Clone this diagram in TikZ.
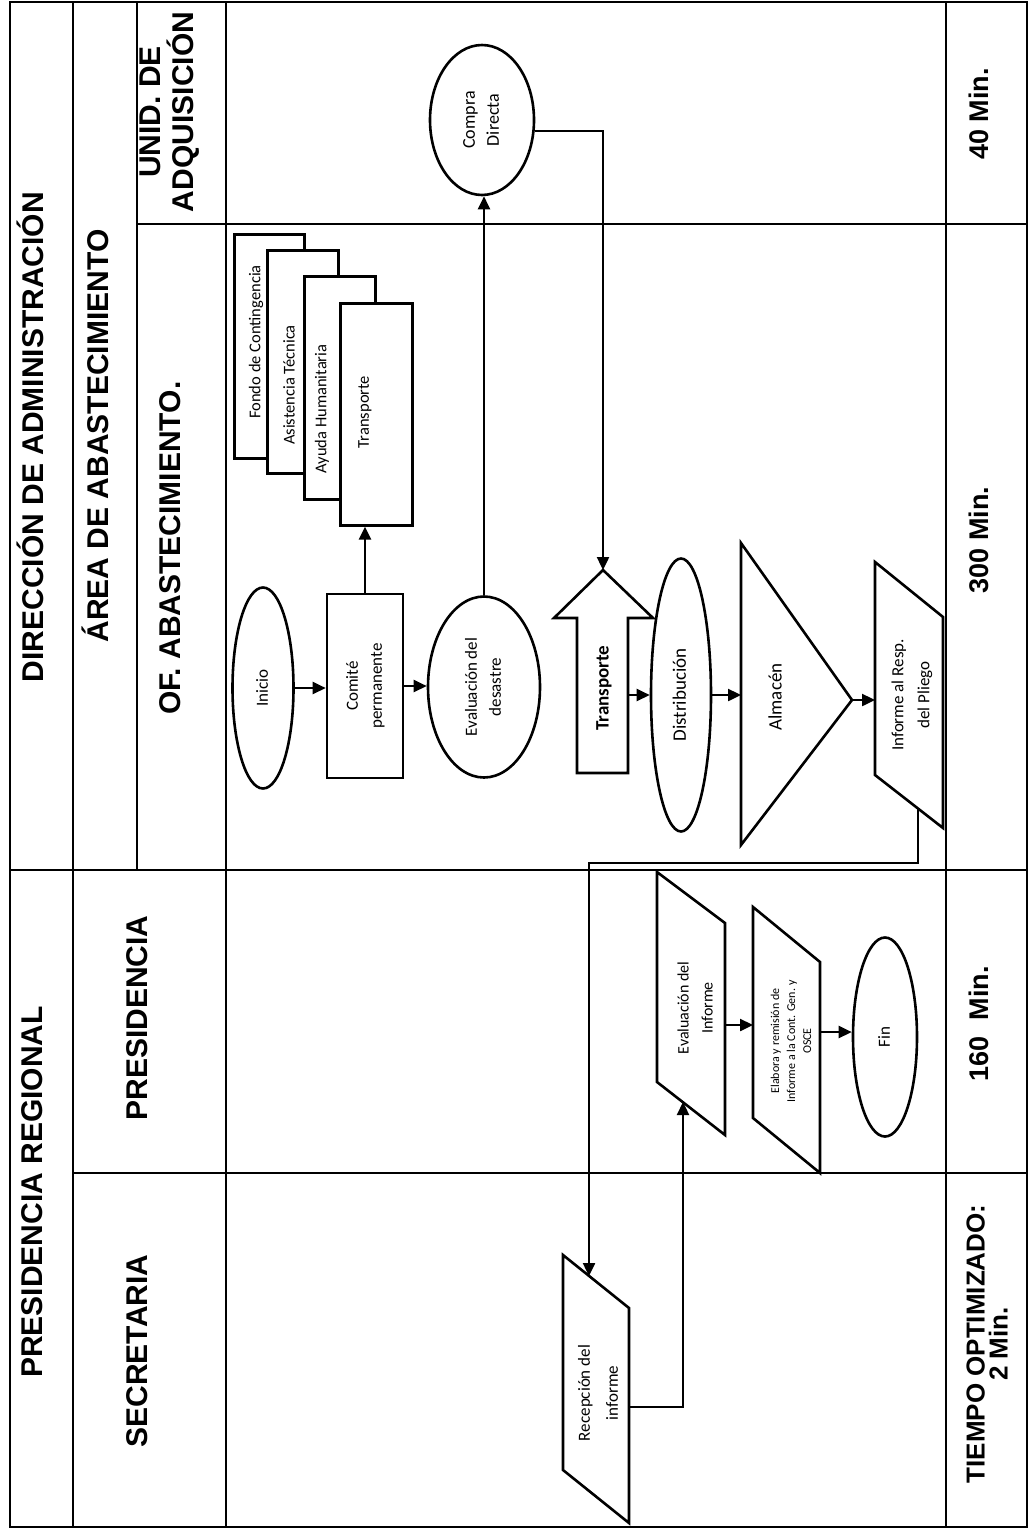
\documentclass[tikz,border=0pt]{standalone}
\usepackage{fontspec}
\usepackage{graphicx}
\setmainfont{Carlito}
\newfontfamily\headfont{Liberation Sans}
\usetikzlibrary{arrows.meta,shapes.geometric}
% upright text block turned to read bottom to top
\newcommand{\vt}[1]{\rotatebox{90}{\begin{tabular}{@{}c@{}}#1\end{tabular}}}

\begin{document}
\begin{tikzpicture}[x=1pt,y=-1pt,
  grid/.style={line width=1.7pt},
  shp/.style={draw,line width=2.6pt,fill=white,inner sep=0pt},
  oval/.style={shp,ellipse,font=\fontsize{17}{24}\selectfont},
  flow/.style={line width=2.4pt,-{Triangle[length=13pt,width=12pt]}},
  head/.style={rotate=90,inner sep=0pt,align=center,font=\headfont\bfseries\fontsize{30}{33}\selectfont},
  tm/.style={head,font=\headfont\bfseries\fontsize{27}{23}\selectfont},
  lbl/.style={rotate=90,inner sep=0pt,align=center,font=\fontsize{17}{25}\selectfont},
  stk/.style={lbl,font=\fontsize{16.5}{20}\selectfont},
  small/.style={lbl,font=\fontsize{12}{16}\selectfont},
]
\useasboundingbox (0,0) rectangle (1029,1531);
\fill[white] (0,0) rectangle (1029,1531);

% ---- lanes ----
\draw[grid] (10,2) rectangle (1027,1527);
\draw[grid] (73,2) -- (73,1527);
\draw[grid] (137,2) -- (137,870);
\draw[grid] (226,2) -- (226,1527);
\draw[grid] (946,2) -- (946,1527);
\draw[grid] (137,224) -- (1027,224);
\draw[grid] (10,870) -- (1027,870);
\draw[grid] (73,1173) -- (1027,1173);

% ---- lane titles ----
\node[head,anchor=base] (dir)  at (43,437)  {DIRECCIÓN DE ADMINISTRACIÓN};
\node[head,anchor=base] (area) at (108,436) {ÁREA DE ABASTECIMIENTO};
\node[head] (unid) at (170,112) {UNID. DE\\ADQUISICIÓN};
\node[head,anchor=base] (ofab) at (180,548) {OF. ABASTECIMIENTO.};
\node[head,anchor=base] (preg) at (42,1192) {PRESIDENCIA REGIONAL};
\node[head,anchor=base] (pres) at (147,1018) {PRESIDENCIA};
\node[head,anchor=base] (secr) at (147,1351) {SECRETARIA};

% ---- times ----
\node[tm,anchor=base] (t40)  at (988,114)  {40 Min.};
\node[tm,anchor=base] (t300) at (988,540)  {300 Min.};
\node[tm,anchor=base] (t160) at (988,1024) {160\hspace{0.6em}Min.};
\node[tm,font=\headfont\bfseries\fontsize{26}{23}\selectfont] (topt) at (987,1344) {TIEMPO OPTIMIZADO:\\2 Min.};

% ---- supply office ----
\node[oval,minimum width=61pt,minimum height=201pt] (inicio) at (263,688) {\vt{Inicio}};
\node[shp,minimum width=76pt,minimum height=184pt,font=\fontsize{17}{24}\selectfont] (comite) at (365,686) {\vt{Comité\\permanente}};
\node[oval,minimum width=112pt,minimum height=181pt] (evald) at (484,687) {\vt{Evaluación del\\desastre}};

% stacked documents
\node[shp,anchor=north west,minimum width=70pt,minimum height=224pt] (st1) at (233,233) {};
\node[shp,anchor=north west,minimum width=71pt,minimum height=223pt] (st2) at (266,249) {};
\node[shp,anchor=north west,minimum width=71pt,minimum height=223pt] (st3) at (303,275) {};
\node[shp,anchor=north west,minimum width=72pt,minimum height=222pt] (st4) at (339,302) {};
\node[stk] (l1) at (256,342) {Fondo de Contingencia};
\node[stk] (l2) at (289,385) {Asistencia Técnica};
\node[stk] (l3) at (322,409) {Ayuda Humanitaria};
\node[stk] (l4) at (365,412) {Transporte};

% transport block arrow
\draw[shp] (577,773) -- (577,618) -- (554,618) -- (603,570) -- (653,618)
  -- (628,618) -- (628,773) -- cycle;
\coordinate (trtip) at (603,570);
\coordinate (trout) at (628,695);
\node[lbl,font=\bfseries\fontsize{19}{24}\selectfont] (trans) at (604,688) {Transporte};

\node[oval,minimum width=60pt,minimum height=273pt,font=\fontsize{19}{24}\selectfont] (distrib) at (681,695) {\vt{Distribución}};

% warehouse
\draw[shp] (741,543) -- (852,700) -- (741,845) -- cycle;
\coordinate (almin) at (741,695);
\coordinate (almtip) at (852,700);
\node[lbl,font=\fontsize{19}{24}\selectfont] (almacen) at (775,697) {Almacén};

% report to the head
\draw[shp] (875,562) -- (943,617) -- (943,828) -- (875,775) -- cycle;
\coordinate (infin) at (875,700);
\coordinate (infout) at (918,808.5);
\node[lbl,font=\fontsize{17}{26}\selectfont] (infor) at (912,695) {Informe al Resp.\\del Pliego};

% ---- acquisition unit ----
\node[oval,minimum width=104pt,minimum height=150pt,font=\fontsize{18}{24}\selectfont] (compra) at (482,120) {\vt{Compra\\Directa}};

% ---- secretary ----
\draw[shp] (563,1255) -- (629,1308) -- (629,1523) -- (563,1470) -- cycle;
\coordinate (recin) at (589,1276);
\coordinate (recout) at (629,1407);
\node[lbl,font=\fontsize{17}{28}\selectfont] (recep) at (598,1393) {Recepción del\\informe};

% ---- presidency ----
\draw[shp] (657,872) -- (725,923) -- (725,1135) -- (657,1082) -- cycle;
\coordinate (evin) at (683,1102);
\coordinate (evout) at (725,1025);
\node[lbl,font=\fontsize{16}{24}\selectfont] (evinf) at (695,1008) {Evaluación del\\Informe};

\draw[shp] (753,907) -- (820,962) -- (820,1173) -- (753,1118) -- cycle;
\coordinate (elin) at (753,1025);
\coordinate (elout) at (820,1032);
\node[small] (elab) at (791,1041) {Elabora y remisión de\\Informe a la Cont. Gen. y\\OSCE};

\node[oval,minimum width=64pt,minimum height=199pt] (fin) at (885,1037) {\vt{Fin}};

% ---- connectors ----
\coordinate (turn) at (0,863);
\draw[flow] (inicio.east) -- (inicio.east -| comite.west);
\draw[flow] (comite.east) -- (comite.east -| evald.west);
\draw[flow] (comite.north) -- (comite.north |- st4.south);
\draw[flow] (evald.north) -- (evald.north |- compra.south);
\draw[flow] (compra.-12) -| (trtip);
\draw[flow] (trout) -- (trout -| distrib.west);
\draw[flow] (distrib.east) -- (almin);
\draw[flow] (almtip) -- (almtip -| infin);
\draw[flow] (infout) -- (infout |- turn) -| (recin);
\draw[flow] (recout) -| (evin);
\draw[flow] (evout) -- (elin);
\draw[flow] (elout) -- (elout -| fin.west);
\end{tikzpicture}
\end{document}
